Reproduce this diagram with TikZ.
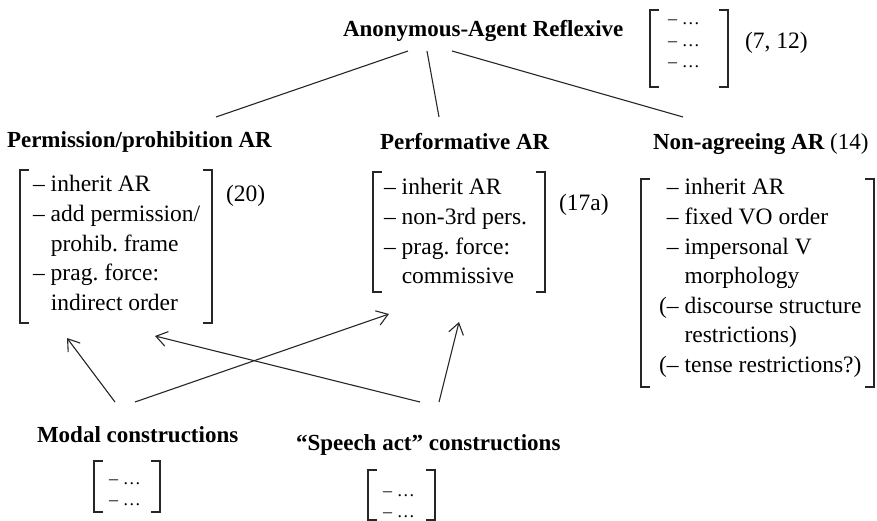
\documentclass[tikz,border=0pt]{standalone}
\usepackage{fontspec}
\setmainfont{Liberation Serif}
\usetikzlibrary{arrows.meta}
\frenchspacing
\newcommand\drawbrk[4]{% left x, right x, top y, bottom y
  \draw[brk] ({#1+9},#3) -- (#1,#3) -- (#1,#4) -- ({#1+9},#4);
  \draw[brk] ({#2-9},#3) -- (#2,#3) -- (#2,#4) -- ({#2-9},#4);}
\begin{document}
\begin{tikzpicture}[x=1pt,y=-1pt,
  every node/.style={inner sep=0pt,outer sep=0pt},
  head/.style={font=\fontsize{23}{28}\selectfont\bfseries\frenchspacing,anchor=base west},
  body/.style={font=\fontsize{23.5}{29.6}\selectfont\frenchspacing,anchor=base west},
  small/.style={font=\fontsize{18}{21.5}\selectfont,anchor=base west},
  brk/.style={line width=1.3pt,line cap=butt,line join=miter,color=black!85},
  link/.style={line width=1.1pt,color=black!85},
  arr/.style={link,-{Straight Barb[length=11pt,width=15pt,line width=1.1pt]}}]
\useasboundingbox (0,0) rectangle (877,521);

% top node
\node[head] (title) at (343,37) {Anonymous-Agent Reflexive};
\drawbrk{650}{728}{10}{87}
\node[small] (titlelist) at (668,25) {\begin{tabular}[t]{@{}l@{\hspace{5pt}}l@{}}– & …\\ – & …\\ – & …\end{tabular}};
\node[body] (titleref) at (745,49) {(7, 12)};

% second level
\node[head] (perm) at (7,148) {Permission/prohibition AR};
\node[head] (perf) at (380,150) {Performative AR};
\node[head] (nonag) at (653,150) {Non-agreeing AR \mdseries(14)};

\drawbrk{20}{212}{170}{323}
\node[body] (permlist) at (33,192) {\begin{tabular}[t]{@{}l@{\hspace{6pt}}l@{}}
– & inherit AR\\ – & add permission/\\ & prohib. frame\\ – & prag. force:\\ & indirect order\end{tabular}};
\node[body] (permref) at (226,202) {(20)};

\drawbrk{373}{545}{172}{292}
\node[body] (perflist) at (384,195) {\begin{tabular}[t]{@{}l@{\hspace{6pt}}l@{}}
– & inherit AR\\ – & non-3rd pers.\\ – & prag. force:\\ & commissive\end{tabular}};
\node[body] (perfref) at (559,211) {(17a)};

\drawbrk{641}{874}{179}{387}
\node[body] (nonaglist) at (659,195) {\begin{tabular}[t]{@{}r@{}l@{\hspace{6pt}}l@{}}
 & – & inherit AR\\ & – & fixed VO order\\ & – & impersonal V\\ & & morphology\\
( & – & discourse structure\\ & & restrictions)\\ ( & – & tense restrictions?)\end{tabular}};

% bottom nodes
\node[head] (modal) at (37,442) {Modal constructions};
\drawbrk{94}{160}{461}{512}
\node[small] (modallist) at (109,484) {\begin{tabular}[t]{@{}l@{\hspace{5pt}}l@{}}– & …\\ – & …\end{tabular}};

\node[head] (speech) at (296,450) {“Speech act” constructions};
\drawbrk{368}{435}{470}{520}
\node[small] (speechlist) at (383,496) {\begin{tabular}[t]{@{}l@{\hspace{5pt}}l@{}}– & …\\ – & …\end{tabular}};

% connector end points
\coordinate (tA) at (408,51);
\coordinate (tB) at (427,51);
\coordinate (tC) at (452,51);
\coordinate (permT) at (216,117);
\coordinate (perfT) at (439,117);
\coordinate (nonagT) at (683,117);
\coordinate (modalA) at (115,402);
\coordinate (modalB) at (135,402);
\coordinate (speechA) at (420,402);
\coordinate (speechB) at (439,402);
\coordinate (permB1) at (67,338);
\coordinate (permB2) at (155,336);
\coordinate (perfB1) at (389,314);
\coordinate (perfB2) at (459,322);

\draw[link] (tA) -- (permT);
\draw[link] (tB) -- (perfT);
\draw[link] (tC) -- (nonagT);

\draw[arr] (modalA) -- (permB1);
\draw[arr] (modalB) -- (perfB1);
\draw[arr] (speechA) -- (permB2);
\draw[arr] (speechB) -- (perfB2);
\end{tikzpicture}
\end{document}
